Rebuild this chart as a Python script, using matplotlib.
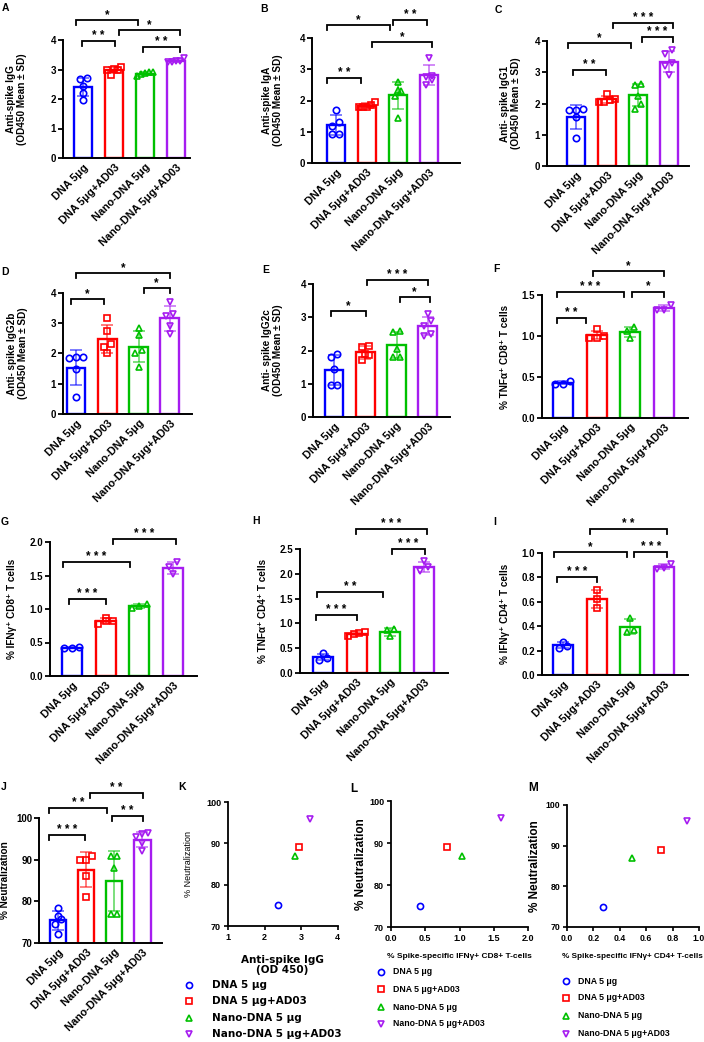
import numpy as np
import matplotlib
matplotlib.use('Agg')
import matplotlib.pyplot as plt
from matplotlib.ticker import FormatStrFormatter

plt.rcParams['font.family'] = ['Liberation Sans', 'DejaVu Sans']
plt.rcParams['font.weight'] = 'bold'
plt.rcParams['axes.labelweight'] = 'bold'

# ------------------------------
# data
# ------------------------------
groups = ['DNA 5μg', 'DNA 5μg+AD03', 'Nano-DNA 5μg', 'Nano-DNA 5μg+AD03']
legend_labels = ['DNA 5 μg', 'DNA 5 μg+AD03', 'Nano-DNA 5 μg', 'Nano-DNA 5 μg+AD03']
colors = ['#0000FF', '#FF0000', '#00C000', '#A61CF0']
markers = ['o', 's', '^', 'v']

# individual animals per group
igg = [[2.68, 2.72, 2.45, 2.20, 1.98], [3.10, 3.02, 3.00, 2.98, 2.80],
       [2.90, 2.90, 2.88, 2.85, 2.78], [3.38, 3.30, 3.28, 3.26, 3.25]]
iga = [[1.71, 1.19, 1.32, 0.93, 0.93], [1.95, 1.85, 1.80, 1.80, 1.78],
       [2.60, 2.35, 2.30, 2.15, 1.45], [3.35, 2.80, 2.75, 2.65, 2.50]]
igg1 = [[1.80, 1.82, 1.79, 1.57, 0.91], [2.30, 2.15, 2.10, 2.05, 2.05],
        [2.62, 2.60, 2.25, 2.00, 1.84], [3.72, 3.60, 3.30, 3.20, 2.90]]
igg2b = [[1.90, 1.88, 1.85, 1.50, 0.55], [3.16, 2.75, 2.33, 2.22, 2.00],
         [2.85, 2.60, 2.10, 2.00, 1.55], [3.70, 3.30, 3.25, 2.90, 2.65]]
igg2c = [[1.88, 1.80, 1.45, 0.95, 0.95], [2.15, 2.10, 1.90, 1.85, 1.70],
         [2.60, 2.55, 2.05, 1.80, 1.80], [3.10, 2.90, 2.75, 2.50, 2.45]]
tnf_cd8 = [[0.45, 0.42, 0.42], [1.08, 1.00, 0.97, 0.98], [1.11, 0.98, 1.06], [1.38, 1.32, 1.32]]
ifn_cd8 = [[0.43, 0.42, 0.42], [0.87, 0.78, 0.82, 0.82], [1.01, 1.08, 1.05], [1.70, 1.52, 1.62]]
tnf_cd4 = [[0.40, 0.27, 0.30], [0.82, 0.75, 0.78, 0.80], [0.88, 0.74, 0.86], [2.25, 2.05, 2.13]]
ifn_cd4 = [[0.27, 0.22, 0.24], [0.70, 0.62, 0.55], [0.47, 0.35, 0.37], [0.91, 0.87, 0.88]]
neut = [[78.4, 76.5, 75.8, 74.5, 72.2], [91.0, 90.0, 90.0, 86.0, 81.0],
        [91.0, 91.0, 88.0, 77.0, 77.0], [96.3, 96.2, 95.5, 94.0, 92.0]]

# correlation panels
neut_group = [75, 89, 87, 96]
igg_od = [2.36, 2.95, 2.84, 3.26]
ifn_cd8_group = [0.43, 0.82, 1.04, 1.61]
ifn_cd4_group = [0.27, 0.71, 0.49, 0.91]

W, H = 704, 1042
fig = plt.figure(figsize=(W / 100, H / 100), dpi=100)


def rect(x0, x1, yt, yb):
    return [x0 / W, 1 - yb / H, (x1 - x0) / W, (yb - yt) / H]


def letter(txt, x, y, size=7.5):
    fig.text(x / W, 1 - y / H, txt, ha='left', va='top', fontsize=size, fontweight='bold')


def swarm(vals, tol):
    order = np.argsort(vals)
    offs = np.zeros(len(vals))
    clusters = []
    for idx in order:
        if clusters and vals[idx] - vals[clusters[-1][0]] < tol:
            clusters[-1].append(idx)
        else:
            clusters.append([idx])
    for c in clusters:
        k = len(c)
        sp = min(0.22, 0.5 / (k - 1)) if k > 1 else 0
        for n, idx in enumerate(c):
            offs[idx] = (n - (k - 1) / 2) * sp
    return offs


# ------------------------------
# bar + dot panels
# ------------------------------
def bar_panel(pts, box, xlim, yticks, fmt, ylabel, brackets, lab_off=30):
    ax = fig.add_axes(rect(*box))
    ymin, ymax = yticks[0], yticks[-1]
    pxu = (box[3] - box[2]) / (ymax - ymin)
    for i, vals in enumerate(pts):
        v = np.array(vals)
        m, sd = v.mean(), v.std(ddof=1)
        ax.bar(i, m, width=0.6, facecolor='white', edgecolor=colors[i], linewidth=1.7, zorder=2)
        ax.errorbar(i, m, yerr=sd, color=colors[i], alpha=0.6, capsize=4.5, capthick=1.2,
                    elinewidth=1.2, zorder=3)
        ax.plot(i + swarm(v, 5.5 / pxu), v, linestyle='none', marker=markers[i], mfc='none',
                mec=colors[i], ms=4.6, mew=1.2, zorder=4, clip_on=False)
    ax.set_xlim(*xlim)
    ax.set_ylim(ymin, ymax)
    ax.set_yticks(yticks)
    ax.yaxis.set_major_formatter(FormatStrFormatter(fmt))
    ax.set_xticks(range(4))
    ax.set_xticklabels(groups, rotation=45, ha='right', va='top', rotation_mode='anchor', fontsize=7.8)
    ax.tick_params(axis='x', length=0, pad=3)
    ax.tick_params(axis='y', direction='out', length=3.5, width=1.3, labelsize=7, pad=1.5)
    for s in ['top', 'right']:
        ax.spines[s].set_visible(False)
    for s in ['left', 'bottom']:
        ax.spines[s].set_linewidth(1.4)
    ax.set_ylabel(ylabel, fontsize=7.2, linespacing=1.15)
    ax.yaxis.set_label_coords(-lab_off / (box[1] - box[0]), 0.5)
    leg = 5 / pxu
    for x1, x2, y, stars in brackets:
        ax.plot([x1, x1, x2, x2], [y - leg, y, y, y - leg], color='black', lw=1.3,
                clip_on=False, solid_joinstyle='miter')
        ax.annotate(' '.join(stars), xy=((x1 + x2) / 2, y), xytext=(0, 1.5), textcoords='offset points',
                    ha='center', va='baseline', fontsize=8.5, fontweight='bold', annotation_clip=False)
    return ax


od_label = '(OD450 Mean ± SD)'

bar_panel(igg, (63, 190, 40, 158), (-0.65, 3.45), [0, 1, 2, 3, 4], '%d',
          'Anti-spike IgG\n' + od_label,
          [(-0.23, 1.77, 4.68, '*'), (1.16, 3.13, 4.34, '*'), (-0.03, 1.03, 3.97, '**'), (1.94, 3.13, 3.76, '**')],
          36)
bar_panel(iga, (312, 460, 38, 163), (-0.77, 4.0), [0, 1, 2, 3, 4], '%d',
          'Anti-spike IgA\n' + od_label,
          [(-0.29, 1.74, 4.42, '*'), (1.84, 2.94, 4.58, '**'), (1.16, 3.1, 3.88, '*'), (-0.29, 0.81, 2.72, '**')],
          29)
bar_panel(igg1, (547, 689, 41, 166), (-0.94, 3.65), [0, 1, 2, 3, 4], '%d',
          'Anti- spike IgG1\n' + od_label,
          [(1.19, 3.13, 4.58, '***'), (2.13, 3.13, 4.13, '***'), (-0.26, 1.77, 3.93, '*'), (-0.1, 0.97, 3.07, '**')],
          26)
bar_panel(igg2b, (63, 192, 293, 414), (-0.42, 3.71), [0, 1, 2, 3, 4], '%d',
          'Anti- spike IgG2b\n' + od_label,
          [(0, 3, 4.66, '*'), (2.16, 3, 4.17, '*'), (-0.16, 0.9, 3.8, '*')],
          35)
bar_panel(igg2c, (313, 450, 284, 417), (-0.67, 3.71), [0, 1, 2, 3, 4], '%d',
          'Anti- spike IgG2c\n' + od_label,
          [(1.06, 3.0, 4.12, '***'), (2.1, 3.06, 3.61, '*'), (-0.1, 1.03, 3.19, '*')],
          30)
bar_panel(tnf_cd8, (542, 688, 295, 418), (-0.62, 3.71), [0, 0.5, 1.0, 1.5], '%.1f',
          '% TNFα⁺ CD8⁺ T cells',
          [(0.89, 3.0, 1.79, '*'), (-0.18, 1.81, 1.54, '***'), (2.06, 3.0, 1.54, '*'), (-0.18, 0.68, 1.22, '**')],
          32)
bar_panel(ifn_cd8, (50, 197, 542, 676), (-0.65, 3.71), [0, 0.5, 1.0, 1.5, 2.0], '%.1f',
          '% IFNγ⁺ CD8⁺ T cells',
          [(1.22, 3.09, 2.04, '***'), (-0.27, 1.72, 1.70, '***'), (-0.09, 1.0, 1.15, '***')],
          33)
bar_panel(tnf_cd4, (300, 448, 549, 673), (-0.68, 3.71), [0, 0.5, 1.0, 1.5, 2.0, 2.5], '%.1f',
          '% TNFα⁺ CD4⁺ T cells',
          [(0.97, 3.08, 2.9, '***'), (2.06, 3.02, 2.5, '***'), (-0.18, 1.78, 1.63, '**'), (-0.2, 1.0, 1.17, '***')],
          32)
bar_panel(ifn_cd4, (542, 688, 553, 675), (-0.62, 3.71), [0, 0.2, 0.4, 0.6, 0.8, 1.0], '%.1f',
          '% IFNγ⁺ CD4⁺ T cells',
          [(0.8, 3.1, 1.2, '**'), (-0.27, 1.9, 1.01, '*'), (2.12, 3.1, 1.01, '***'), (-0.18, 1.0, 0.8, '***')],
          32)
bar_panel(neut, (39, 162, 818, 943), (-0.68, 3.71), [70, 80, 90, 100], '%d',
          '% Neutralization',
          [(1.14, 3.03, 106.0, '**'), (-0.32, 1.75, 102.4, '**'), (1.93, 3.03, 100.5, '**'), (-0.32, 0.96, 95.9, '***')],
          29)


# ------------------------------
# correlation panels
# ------------------------------
def scatter_panel(xs, box, xlim, xticks, xfmt, tsize, ylab_size, ylab_weight, lab_off):
    ax = fig.add_axes(rect(*box))
    for i in range(4):
        ax.plot(xs[i], neut_group[i], linestyle='none', marker=markers[i], mfc='none',
                mec=colors[i], ms=4.4, mew=1.2, clip_on=False)
    ax.set_xlim(*xlim)
    ax.set_ylim(70, 100)
    ax.set_xticks(xticks)
    ax.set_yticks([70, 80, 90, 100])
    ax.xaxis.set_major_formatter(FormatStrFormatter(xfmt))
    ax.tick_params(direction='out', length=3, width=1.2, labelsize=tsize, pad=2)
    for s in ['top', 'right']:
        ax.spines[s].set_visible(False)
    for s in ['left', 'bottom']:
        ax.spines[s].set_linewidth(1.3)
    ax.set_ylabel('% Neutralization', fontsize=ylab_size, fontweight=ylab_weight)
    ax.yaxis.set_label_coords(-lab_off / (box[1] - box[0]), 0.5)
    return ax


def legend_block(mx, tx, ys, font, size, ms=4.4):
    for i, y in enumerate(ys):
        fig.add_artist(plt.Line2D([mx / W], [1 - y / H], linestyle='none', marker=markers[i], mfc='none',
                                  mec=colors[i], ms=ms, mew=1.2))
        fig.text(tx / W, 1 - y / H, legend_labels[i], ha='left', va='center', fontsize=size,
                 fontweight='bold', family=font)


wide = ['DejaVu Sans']
plain = ['Liberation Sans']

scatter_panel(igg_od, (228, 337.5, 802, 926), (1, 4), [1, 2, 3, 4], '%d', 6.5, 6.5, 'normal', 35)
fig.text(282 / W, 1 - 965 / H, 'Anti-spike IgG\n(OD 450)', ha='center', va='center', fontsize=7.5,
         fontweight='bold', family=wide, linespacing=1.05)
legend_block(189, 212, [985, 1001, 1018, 1034], wide, 7.5)

scatter_panel(ifn_cd8_group, (391, 528, 801, 927), (0, 2), [0, 0.5, 1.0, 1.5, 2.0], '%.1f', 6.5,
              8.5, 'bold', 24)
fig.text(459 / W, 1 - 957 / H, '% Spike-specific IFNγ+ CD8+ T-cells', ha='center', va='center',
         fontsize=6.0, fontweight='bold', family=plain)
legend_block(381, 393, [972, 989, 1007, 1024], plain, 6.3)

scatter_panel(ifn_cd4_group, (567, 699, 805, 927), (0, 1), [0, 0.2, 0.4, 0.6, 0.8, 1.0], '%.1f', 6.3,
              8.5, 'bold', 26)
fig.text(632 / W, 1 - 956 / H, '% Spike-specific IFNγ+ CD4+ T-cells', ha='center', va='center',
         fontsize=5.9, fontweight='bold', family=plain)
legend_block(566, 578, [981, 998, 1016, 1034], plain, 6.3)

# panel letters
for t, x, y in [('A', 2, 3), ('B', 260, 4), ('C', 495, 5), ('D', 1, 267), ('E', 262, 265),
                ('F', 493, 264), ('G', 1, 517), ('H', 252, 516), ('I', 493, 517), ('J', 1, 782),
                ('K', 178, 782)]:
    letter(t, x, y)
letter('L', 350, 783, 8.5)
letter('M', 528, 782, 8.5)

fig.savefig('out.png', dpi=100, facecolor='white')
